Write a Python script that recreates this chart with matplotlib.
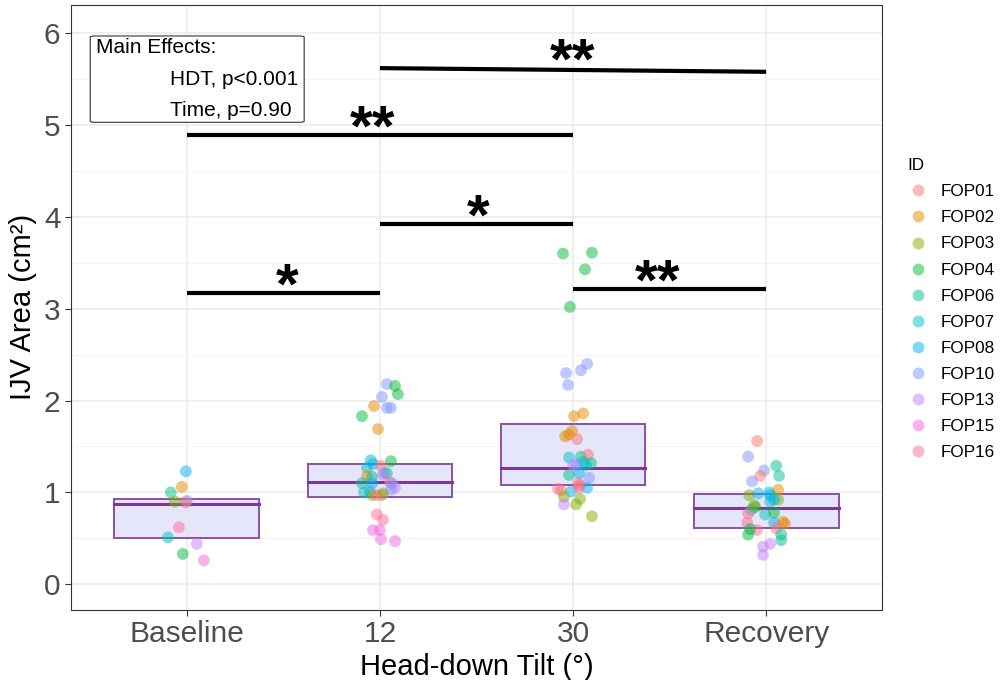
import matplotlib
matplotlib.use('Agg')
import matplotlib.pyplot as plt
from matplotlib.lines import Line2D
from matplotlib.patches import Rectangle, FancyBboxPatch

plt.rcParams['font.family'] = ['Liberation Sans', 'DejaVu Sans']

# categories and subjects
groups = ['Baseline', '12', '30', 'Recovery']
subjects = ['FOP01', 'FOP02', 'FOP03', 'FOP04', 'FOP06', 'FOP07',
            'FOP08', 'FOP10', 'FOP13', 'FOP15', 'FOP16']
palette = ['#F8766D', '#E38900', '#7CAE00', '#00BA38', '#00C08B', '#00BFC4',
           '#00B0F6', '#7F96FF', '#C77CFF', '#F564E3', '#FF6C91']

# box summaries (lower, middle, upper)
box_low = [0.50, 0.95, 1.08, 0.61]
box_mid = [0.87, 1.11, 1.27, 0.83]
box_high = [0.93, 1.31, 1.74, 0.98]

# individual measurements per group: subject id, value, jitter
base_ids = ['FOP08', 'FOP02', 'FOP06', 'FOP03', 'FOP10', 'FOP01', 'FOP16',
            'FOP07', 'FOP13', 'FOP04', 'FOP15']
base_vals = [1.23, 1.06, 1.00, 0.90, 0.91, 0.89, 0.62, 0.51, 0.44, 0.33, 0.26]
base_jit = [-0.005, -0.026, -0.083, -0.062, 0.0, -0.005, -0.041, -0.098,
            0.052, -0.021, 0.088]

hdt12_ids = ['FOP10', 'FOP04', 'FOP04', 'FOP10', 'FOP02', 'FOP10', 'FOP10',
             'FOP04', 'FOP02', 'FOP07', 'FOP04', 'FOP07', 'FOP08', 'FOP01',
             'FOP10', 'FOP06', 'FOP02', 'FOP06', 'FOP13', 'FOP06', 'FOP08',
             'FOP16', 'FOP10', 'FOP13', 'FOP07', 'FOP08', 'FOP10', 'FOP03',
             'FOP01', 'FOP16', 'FOP03', 'FOP16', 'FOP16', 'FOP15', 'FOP15',
             'FOP15', 'FOP15']
hdt12_vals = [2.18, 2.16, 2.07, 2.04, 1.94, 1.92, 1.92, 1.83, 1.69, 1.35,
              1.34, 1.27, 1.31, 1.29, 1.21, 1.21, 1.18, 1.17, 1.19, 1.10,
              1.10, 1.11, 1.10, 1.05, 1.00, 1.01, 1.03, 0.97, 0.97, 0.97,
              0.99, 0.76, 0.70, 0.59, 0.59, 0.49, 0.47]
hdt12_jit = [0.036, 0.078, 0.093, 0.010, -0.031, 0.036, 0.057, -0.093,
             -0.010, -0.047, 0.057, -0.067, -0.036, 0.005, 0.021, 0.036,
             -0.067, -0.041, 0.016, -0.093, -0.041, 0.052, 0.062, 0.078,
             -0.083, -0.052, 0.057, -0.041, -0.016, 0.010, 0.016, -0.016,
             0.016, -0.036, 0.0, 0.005, 0.078]

hdt30_ids = ['FOP04', 'FOP04', 'FOP04', 'FOP04', 'FOP10', 'FOP10', 'FOP10',
             'FOP10', 'FOP02', 'FOP02', 'FOP02', 'FOP02', 'FOP02', 'FOP01',
             'FOP07', 'FOP06', 'FOP01', 'FOP07', 'FOP06', 'FOP13', 'FOP10',
             'FOP07', 'FOP06', 'FOP08', 'FOP10', 'FOP16', 'FOP01', 'FOP16',
             'FOP01', 'FOP08', 'FOP08', 'FOP16', 'FOP03', 'FOP03', 'FOP13',
             'FOP03', 'FOP03']
hdt30_vals = [3.60, 3.61, 3.43, 3.02, 2.40, 2.33, 2.30, 2.17, 1.86, 1.83,
              1.67, 1.61, 1.63, 1.58, 1.38, 1.39, 1.41, 1.33, 1.32, 1.30,
              1.30, 1.30, 1.19, 1.21, 1.16, 1.10, 1.08, 1.04, 1.02, 1.01,
              1.05, 1.05, 0.95, 0.93, 0.87, 0.87, 0.74]
hdt30_jit = [-0.052, 0.098, 0.062, -0.016, 0.073, 0.041, -0.036, -0.026,
             0.052, 0.005, -0.005, -0.041, -0.021, 0.021, -0.021, 0.041,
             0.078, 0.052, 0.093, 0.0, 0.021, 0.067, -0.021, 0.031, 0.083,
             0.026, 0.036, -0.078, -0.062, -0.010, 0.073, 0.031, -0.047,
             0.036, -0.047, 0.016, 0.098]

rec_ids = ['FOP01', 'FOP10', 'FOP06', 'FOP10', 'FOP01', 'FOP06', 'FOP10',
           'FOP03', 'FOP08', 'FOP08', 'FOP02', 'FOP07', 'FOP03', 'FOP04',
           'FOP07', 'FOP16', 'FOP07', 'FOP04', 'FOP16', 'FOP08', 'FOP02',
           'FOP02', 'FOP16', 'FOP04', 'FOP04', 'FOP01', 'FOP06', 'FOP06',
           'FOP13', 'FOP13', 'FOP13', 'FOP07', 'FOP08', 'FOP03']
rec_vals = [1.56, 1.39, 1.29, 1.24, 1.18, 1.18, 1.12, 0.97, 0.99, 1.00,
            1.03, 0.90, 0.92, 0.84, 0.81, 0.77, 0.76, 0.78, 0.67, 0.67,
            0.68, 0.66, 0.59, 0.54, 0.60, 0.61, 0.54, 0.48, 0.41, 0.44,
            0.32, 0.97, 0.92, 0.86]
rec_jit = [-0.047, -0.093, 0.052, -0.010, -0.031, 0.067, -0.073, -0.088,
           -0.041, 0.016, 0.062, 0.021, 0.062, -0.057, -0.078, -0.093,
           -0.005, 0.041, -0.098, 0.041, 0.088, 0.098, -0.047, -0.093,
           -0.083, 0.052, 0.078, 0.078, -0.016, 0.021, -0.016, 0.021,
           0.041, -0.062]

all_ids = [base_ids, hdt12_ids, hdt30_ids, rec_ids]
all_vals = [base_vals, hdt12_vals, hdt30_vals, rec_vals]
all_jit = [base_jit, hdt12_jit, hdt30_jit, rec_jit]

# significance brackets: from group, to group, y at left end, y at right end, label
sig_from = [1, 2, 1, 2, 3]
sig_to = [2, 3, 3, 4, 4]
sig_y0 = [3.17, 3.92, 4.89, 5.62, 3.21]
sig_y1 = [3.17, 3.92, 4.89, 5.58, 3.21]
sig_lab = ['*', '*', '**', '**', '**']
sig_txt_x = [1.52, 2.51, 1.96, 3.0, 3.44]

fig = plt.figure(figsize=(10, 6.8), dpi=100)
ax = fig.add_axes([0.071, 0.103, 0.811, 0.890])

box_w = 0.75
for i in range(len(groups)):
    x = i + 1
    ax.add_patch(Rectangle((x - box_w / 2, box_low[i]), box_w,
                           box_high[i] - box_low[i], facecolor='#E6E6FA',
                           edgecolor='#8E4FA6', linewidth=1.4, zorder=2))
    ax.plot([x - box_w / 2, x + box_w / 2], [box_mid[i], box_mid[i]],
            color='#7A3A94', linewidth=2.2, zorder=3)

for i in range(len(groups)):
    xs = [i + 1 + j for j in all_jit[i]]
    cs = [palette[subjects.index(s)] for s in all_ids[i]]
    ax.scatter(xs, all_vals[i], s=72, c=cs, alpha=0.5, linewidths=0, zorder=4)

for a, b, y0, y1, lab, tx in zip(sig_from, sig_to, sig_y0, sig_y1, sig_lab, sig_txt_x):
    ax.plot([a, b], [y0, y1], color='black', linewidth=3, solid_capstyle='butt', zorder=5)
    ax.text(tx, max(y0, y1) - 0.11, lab, ha='center', va='baseline',
            fontsize=42, fontweight='bold', zorder=6)

# main effects box
ax.add_patch(FancyBboxPatch((0.4995, 5.03), 1.108, 0.94,
                            boxstyle='round,pad=0,rounding_size=0.025',
                            facecolor='white', edgecolor='#333333',
                            linewidth=0.8, zorder=6, mutation_aspect=0.5))
ax.text(0.53, 5.84, 'Main Effects:', fontsize=15, ha='left', va='center', zorder=7)
ax.text(1.577, 5.50, 'HDT, p<0.001', fontsize=15, ha='right', va='center', zorder=7)
ax.text(1.54, 5.16, 'Time, p=0.90', fontsize=15, ha='right', va='center', zorder=7)

ax.set_xlim(0.4, 4.6)
ax.set_ylim(-0.28, 6.31)
ax.set_xticks(range(1, 5))
ax.set_xticklabels(groups)
ax.set_yticks(range(0, 7))
ax.set_yticks([0.5, 1.5, 2.5, 3.5, 4.5, 5.5], minor=True)
ax.grid(True, which='major', color='#EBEBEB', linewidth=1.1, zorder=0)
ax.grid(True, which='minor', axis='y', color='#F2F2F2', linewidth=0.6, zorder=0)
ax.set_axisbelow(True)
ax.tick_params(axis='both', which='major', labelsize=21.5, labelcolor='#4D4D4D',
               color='#333333', length=4, width=0.8)
ax.tick_params(axis='y', which='minor', length=0)
for sp in ax.spines.values():
    sp.set_color('#333333')
    sp.set_linewidth(0.8)

ax.set_xlabel('Head-down Tilt (°)', fontsize=21, labelpad=3)
ax.set_ylabel('IJV Area (cm²)', fontsize=21, labelpad=5)

handles = [Line2D([], [], marker='o', linestyle='', markersize=8.5,
                  markerfacecolor=c, markeredgewidth=0, alpha=0.5) for c in palette]
leg = fig.legend(handles, subjects, title='ID', loc='upper left',
                 bbox_to_anchor=(0.892, 0.79), frameon=False, fontsize=12.3,
                 title_fontsize=12.3, labelspacing=0.65, handletextpad=0.75,
                 handlelength=1.2, alignment='left')

fig.savefig('out.png', dpi=100)
